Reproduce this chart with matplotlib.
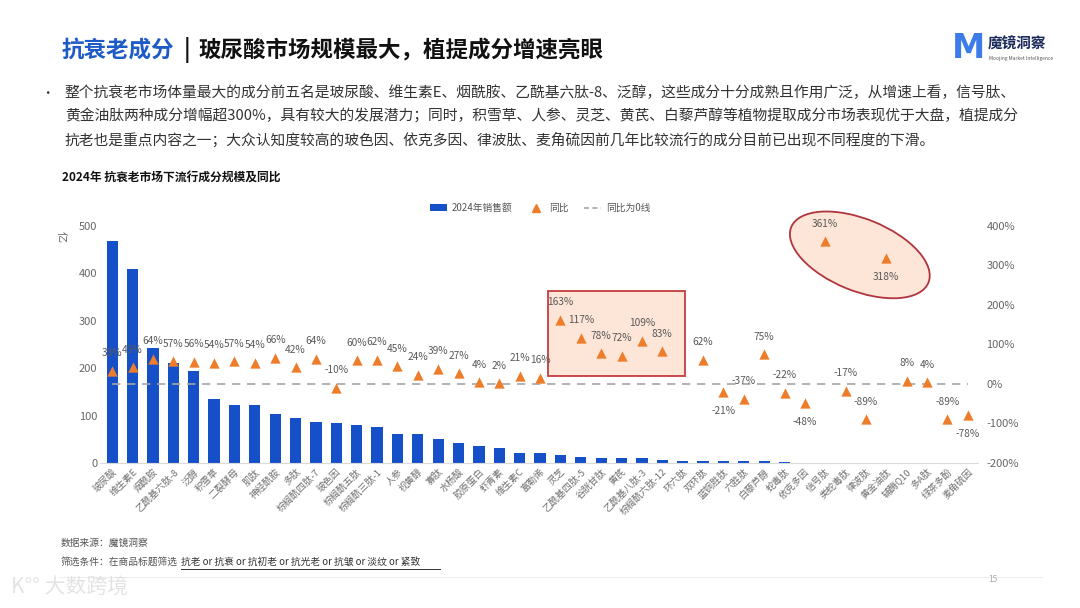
import numpy as np
import matplotlib
matplotlib.use('Agg')
import matplotlib.pyplot as plt
from matplotlib.patches import Rectangle, Ellipse, Patch
from matplotlib.lines import Line2D
import matplotlib.transforms as mtransforms

plt.rcParams['font.family'] = ['Noto Sans CJK SC', 'DejaVu Sans']

# 成分名称
names = ['玻尿酸', '维生素E', '烟酰胺', '乙酰基六肽-8', '泛醇', '积雪草', '二裂酵母', '肌肽',
         '神经酰胺', '多肽', '棕榈酰四肽-7', '玻色因', '棕榈酰五肽', '棕榈酰三肽-1', '人参',
         '视黄醇', '寡肽', '水杨酸', '胶原蛋白', '虾青素', '维生素C', '富勒烯', '灵芝',
         '乙酰基四肽-5', '谷胱甘肽', '黄芪', '乙酰基八肽-3', '棕榈酰六肽-12', '环六肽', '双环肽',
         '蓝铜胜肽', '六胜肽', '白藜芦醇', '蛇毒肽', '依克多因', '信号肽', '类蛇毒肽', '律波肽',
         '黄金油肽', '辅酶Q10', '多A肽', '绿茶多酚', '麦角硫因']
# 2024年销售额 (亿)
sales = [468, 410, 243, 211, 194, 136, 122, 122, 103, 95, 86, 84, 81, 76, 62,
         61, 51, 42, 36, 32, 20.5, 20.5, 16, 13, 10.5, 10, 10, 7, 5, 3.5,
         4, 4, 3.5, 1.2, 1, 0.4, 0.4, 0.3, 0.3, 0.3, 0.3, 0.2, 0.2]
# 同比 (%), 环六肽无数据
yoy = [33, 43, 64, 57, 56, 54, 57, 54, 66, 42, 64, -10, 60, 62, 45,
       24, 39, 27, 4, 2, 21, 16, 163, 117, 78, 72, 109, 83, np.nan, 62,
       -21, -37, 75, -22, -48, 361, -17, -89, 318, 8, 4, -89, -78]
below = {'-21%', '-48%', '318%', '-78%'}

fig = plt.figure(figsize=(10.8, 6.08), dpi=100)
fig.patch.set_facecolor('white')

# 标题
fig.text(0.057, 0.918, '抗衰老成分', fontsize=16.2, fontweight='bold', color='#1f5bc6', va='center')
fig.text(0.170, 0.918, '|', fontsize=16.2, fontweight='bold', color='#111111', va='center')
fig.text(0.184, 0.918, '玻尿酸市场规模最大，植提成分增速亮眼', fontsize=16.2, fontweight='bold',
         color='#111111', va='center')

# logo
fig.text(0.897, 0.921, 'M', fontsize=24, fontweight='bold', color='#3d7be8', va='center', ha='center',
         family=['DejaVu Sans'])
fig.text(0.915, 0.928, '魔镜洞察', fontsize=10.5, fontweight='bold', color='#1a2a5a', va='center')
fig.text(0.916, 0.903, 'Moojing Market Intelligence', fontsize=3.5, color='#555555', va='center')

# 说明文字
lines = ['整个抗衰老市场体量最大的成分前五名是玻尿酸、维生素E、烟酰胺、乙酰基六肽-8、泛醇，这些成分十分成熟且作用广泛，从增速上看，信号肽、',
         '黄金油肽两种成分增幅超300%，具有较大的发展潜力；同时，积雪草、人参、灵芝、黄芪、白藜芦醇等植物提取成分市场表现优于大盘，植提成分',
         '抗老也是重点内容之一；大众认知度较高的玻色因、依克多因、律波肽、麦角硫因前几年比较流行的成分目前已出现不同程度的下滑。']
fig.text(0.038, 1 - 93 / 608, '•', fontsize=9, color='#333333', va='center')
for i, s in enumerate(lines):
    fig.text(0.060, 1 - (93 + i * 23.5) / 608, s, fontsize=10.65, color='#333333', va='center')

fig.text(0.057, 1 - 178 / 608, '2024年 抗衰老市场下流行成分规模及同比', fontsize=8.5, fontweight='bold',
         color='#111111', va='center')

ax = fig.add_axes([0.0926, 0.2385, 0.8130, 0.3898])
x = np.arange(len(names))
ax.bar(x, sales, width=0.55, color='#1650c8', zorder=2)
ax.set_ylim(0, 500)
ax.set_xlim(-0.6, len(names) - 0.5)
ax.set_yticks([0, 100, 200, 300, 400, 500])
ax.tick_params(axis='y', length=0, labelsize=8, labelcolor='#666666', pad=2)
ax.set_xticks(x)
ax.set_xticklabels(names, rotation=45, ha='right', rotation_mode='anchor', fontsize=6.8, color='#707070')
ax.tick_params(axis='x', length=0, pad=3)
for s in ['top', 'right', 'left']:
    ax.spines[s].set_visible(False)
ax.spines['bottom'].set_color('#d9d9d9')
ax.text(-0.045, 0.955, '亿', transform=ax.transAxes, rotation=-90, fontsize=8, color='#666666',
        ha='center', va='center')

ax2 = ax.twinx()
ax2.set_ylim(-200, 400)
ax2.set_yticks([-200, -100, 0, 100, 200, 300, 400])
ax2.set_yticklabels([f'{v}%' for v in [-200, -100, 0, 100, 200, 300, 400]])
ax2.tick_params(axis='y', length=0, labelsize=8, labelcolor='#666666', pad=6)
for s in ['top', 'right', 'left', 'bottom']:
    ax2.spines[s].set_visible(False)

# 高亮区域
ax2.add_patch(Rectangle((21.4, 20), 6.7, 215, facecolor='#fde3d3', edgecolor='#c0282d', lw=1.3,
                        alpha=0.9, zorder=1))
px = ax2.transData.transform([(35, 361), (38, 318)])
cx, cy = px.mean(axis=0)
ax2.add_patch(Ellipse((cx + 4, cy - 5), 148, 72, angle=-22, transform=mtransforms.IdentityTransform(),
                      facecolor='#fde3d3', edgecolor='#a8202a', lw=1.3, alpha=0.9, zorder=1, clip_on=False))

ax2.plot([0, len(names) - 1], [0, 0], ls=(0, (5, 4)), color='#a6a6a6', lw=1.2, zorder=2)
yv = np.array(yoy, dtype=float)
ax2.scatter(x, yv, marker='^', s=55, color='#ee7d2b', zorder=4, linewidths=0)
for xi, v in zip(x, yoy):
    if np.isnan(v):
        continue
    lab = f'{int(v)}%'
    if lab in below:
        ax2.annotate(lab, (xi, v), xytext=(0, -10), textcoords='offset points', ha='center', va='top',
                     fontsize=7.3, color='#595959', zorder=5)
    else:
        ax2.annotate(lab, (xi, v), xytext=(0, 9), textcoords='offset points', ha='center', va='bottom',
                     fontsize=7.3, color='#595959', zorder=5)

# 图例
handles = [Patch(facecolor='#1650c8', label='2024年销售额'),
           Line2D([], [], marker='^', ls='none', color='#ee7d2b', markersize=6, label='同比'),
           Line2D([], [], ls=(0, (3, 2)), color='#a6a6a6', lw=1.2, label='同比为0线')]
fig.legend(handles=handles, loc='center', bbox_to_anchor=(0.5, 1 - 208 / 608), ncol=3, frameon=False,
           fontsize=7, handlelength=1.8, handleheight=0.6, columnspacing=1.5, handletextpad=0.5,
           labelcolor='#555555')

# 来源
fig.text(0.056, 1 - 543 / 608, '数据来源：魔镜洞察', fontsize=7, color='#555555', va='center')
fig.text(0.056, 1 - 562 / 608, '筛选条件：在商品标题筛选', fontsize=7, color='#555555', va='center')
fig.text(0.168, 1 - 562 / 608, '抗老 or 抗衰 or 抗初老 or 抗光老 or 抗皱 or 淡纹 or 紧致', fontsize=7,
         color='#333333', va='center')
fig.add_artist(Line2D([0.168, 0.407], [1 - 569 / 608, 1 - 569 / 608], color='#333333', lw=0.7))
fig.add_artist(Line2D([0.055, 0.965], [1 - 577 / 608, 1 - 577 / 608], color='#eeeeee', lw=0.8))
fig.text(0.915, 1 - 580 / 608, '15', fontsize=6, color='#aaaaaa', va='center')
fig.text(0.01, 1 - 588 / 608, 'K°° 大数跨境', fontsize=15, color='#dddddd', va='center', alpha=0.8)

fig.savefig('out.png', dpi=100, facecolor='white')
